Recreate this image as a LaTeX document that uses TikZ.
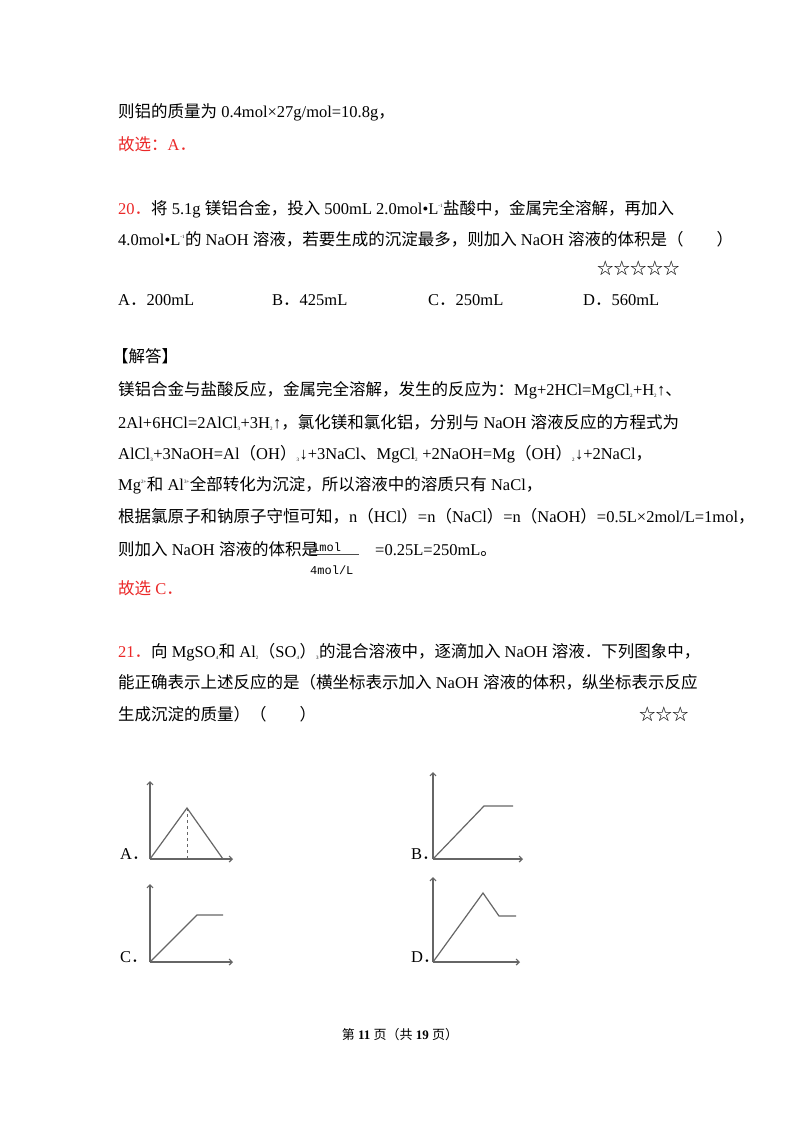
\documentclass[tikz,border=0pt]{standalone}
\usetikzlibrary{arrows.meta}
\usepackage{fontspec}
\setmainfont{Liberation Serif}
\setmonofont{Liberation Mono}
\newfontfamily\cjk{Noto Sans CJK SC}
\newcommand{\zh}[1]{{\cjk #1}}
\newcommand{\sbs}[1]{\textsubscript{\tiny #1}}
\newcommand{\sps}[1]{\textsuperscript{\tiny #1}}
\definecolor{ansred}{RGB}{235,40,40}
\begin{document}
\begin{tikzpicture}[x=1pt,y=-1pt,
  tx/.style={anchor=base west,inner sep=0,font=\fontsize{16.5}{18}\selectfont},
  ax/.style={draw=black!60,line width=1.2pt,-{Straight Barb[length=3pt,width=6pt]}},
  cv/.style={draw=black!60,line width=1.2pt}]
\useasboundingbox (0,0) rectangle (800,1132);
\fill[white] (0,0) rectangle (800,1132);
\node[tx] (l1) at (118,117) {\zh{则铝的质量为} 0.4mol×27g/mol=10.8g\zh{，}};
\node[tx,text=ansred] (l2) at (118,150) {\zh{故选：}A\zh{．}};
\node[tx] (q1) at (118,214) {\textcolor{ansred}{20\zh{．}}\zh{将} 5.1g \zh{镁铝合金，投入} 500mL 2.0mol•L\sps{-1}\zh{盐酸中，金属完全溶解，再加入}};
\node[tx] (q2) at (118,245) {4.0mol•L\sps{-1}\zh{的} NaOH \zh{溶液，若要生成的沉淀最多，则加入} NaOH \zh{溶液的体积是（　　）}};
\node[tx] (st1) at (597,274) {\zh{☆☆☆☆☆}};
\node[tx] (oa) at (118,305) {A\zh{．}200mL};
\node[tx] (ob) at (272,305) {B\zh{．}425mL};
\node[tx] (oc) at (428,305) {C\zh{．}250mL};
\node[tx] (od) at (583,305) {D\zh{．}560mL};
\node[tx] (jd) at (112,362) {\zh{【解答】}};
\node[tx] (s1) at (118,395) {\zh{镁铝合金与盐酸反应，金属完全溶解，发生的反应为：}Mg+2HCl=MgCl\sbs{2}+H\sbs{2}↑\zh{、}};
\node[tx] (s2) at (118,428) {2Al+6HCl=2AlCl\sbs{3}+3H\sbs{2}↑\zh{，氯化镁和氯化铝，分别与} NaOH \zh{溶液反应的方程式为}};
\node[tx] (s3) at (118,459) {AlCl\sbs{3}+3NaOH=Al\zh{（}OH\zh{）}\sbs{3}↓+3NaCl\zh{、}MgCl\sbs{2} +2NaOH=Mg\zh{（}OH\zh{）}\sbs{2}↓+2NaCl\zh{，}};
\node[tx] (s4) at (118,490) {Mg\sps{2+}\zh{和} Al\sps{3+}\zh{全部转化为沉淀，所以溶液中的溶质只有} NaCl\zh{，}};
\node[tx] (s5) at (118,522) {\zh{根据氯原子和钠原子守恒可知，}n\zh{（}HCl\zh{）}=n\zh{（}NaCl\zh{）}=n\zh{（}NaOH\zh{）}=0.5L×2mol/L=1mol\zh{，}};
\node[tx] (s6) at (118,555) {\zh{则加入} NaOH \zh{溶液的体积是}};
\node[anchor=base west,inner sep=0,font=\ttfamily\fontsize{12}{13}\selectfont] (fn) at (312,551) {1mol};
\node[anchor=base west,inner sep=0,font=\ttfamily\fontsize{12}{13}\selectfont] (fd) at (310,574) {4mol/L};
\coordinate (fl) at (308,554); \coordinate (fr) at (359,554);
\draw[black!70,line width=0.6pt] (fl) -- (fr);
\node[tx] (s7) at (375,555) {=0.25L=250mL\zh{。}};
\node[tx,text=ansred] (s8) at (118,594) {\zh{故选} C\zh{．}};
\node[tx] (r1) at (118,657) {\textcolor{ansred}{21\zh{．}}\zh{向} MgSO\sbs{4}\zh{和} Al\sbs{2}\zh{（}SO\sbs{4}\zh{）}\sbs{3}\zh{的混合溶液中，逐滴加入} NaOH \zh{溶液．下列图象中，}};
\node[tx] (r2) at (118,688) {\zh{能正确表示上述反应的是（横坐标表示加入} NaOH \zh{溶液的体积，纵坐标表示反应}};
\node[tx] (r3) at (118,720) {\zh{生成沉淀的质量）（　　）}};
\node[tx] (st2) at (639,720) {\zh{☆☆☆}};
% graph A
\node[tx] (la) at (120,859) {A\zh{．}};
\coordinate (oA) at (150,859); \coordinate (yA) at (150,781); \coordinate (xA) at (233,859);
\coordinate (pA) at (187,808); \coordinate (fA) at (187,859); \coordinate (eA) at (223,859);
\draw[ax] (oA) -- (yA); \draw[ax] (oA) -- (xA);
\draw[cv] (oA) -- (pA) -- (eA);
\draw[cv,dashed,line width=1pt] (pA) -- (fA);
% graph B
\node[tx] (lb) at (411,859) {B\zh{．}};
\coordinate (oB) at (433,859); \coordinate (yB) at (433,772); \coordinate (xB) at (523,859);
\coordinate (kB) at (484,806); \coordinate (eB) at (513,806);
\draw[ax] (oB) -- (yB); \draw[ax] (oB) -- (xB);
\draw[cv] (oB) -- (kB) -- (eB);
% graph C
\node[tx] (lc) at (120,962) {C\zh{．}};
\coordinate (oC) at (150,962); \coordinate (yC) at (150,884); \coordinate (xC) at (233,962);
\coordinate (kC) at (197,915); \coordinate (eC) at (223,915);
\draw[ax] (oC) -- (yC); \draw[ax] (oC) -- (xC);
\draw[cv] (oC) -- (kC) -- (eC);
% graph D
\node[tx] (ld) at (411,962) {D\zh{．}};
\coordinate (oD) at (433,962); \coordinate (yD) at (433,877); \coordinate (xD) at (520,962);
\coordinate (pD) at (483,893); \coordinate (dD) at (499,916); \coordinate (eD) at (516,916);
\draw[ax] (oD) -- (yD); \draw[ax] (oD) -- (xD);
\draw[cv] (oD) -- (pD) -- (dD) -- (eD);
\node[anchor=base,inner sep=0,font=\fontsize{13}{14}\selectfont] (ft) at (400,1039) {\zh{第} \textbf{11} \zh{页（共} \textbf{19} \zh{页）}};
\end{tikzpicture}
\end{document}
